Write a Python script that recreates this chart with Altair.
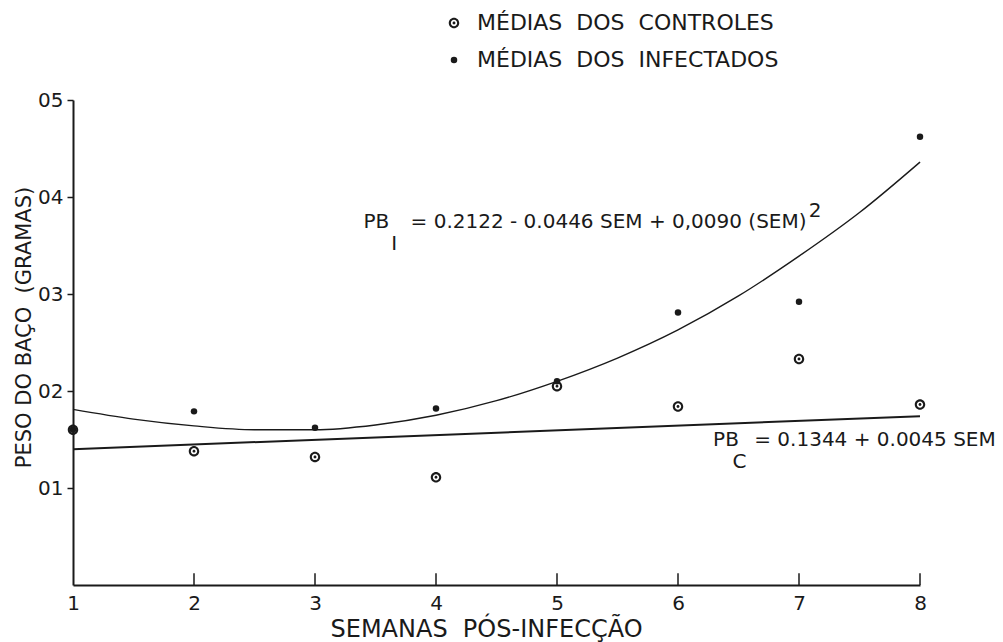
import altair as alt
import pandas as pd

# ---- data ----
weeks = [1, 2, 3, 4, 5, 6, 7, 8]
controls = [0.160, 0.138, 0.132, 0.111, 0.205, 0.184, 0.233, 0.186]
infected = [0.160, 0.179, 0.162, 0.182, 0.210, 0.281, 0.292, 0.462]

curve_x = [1, 1.5, 2, 2.5, 3, 3.5, 4, 4.5, 5, 5.5, 6, 6.5, 7, 7.5, 8]
curve_infected = [0.181, 0.171, 0.164, 0.160, 0.160, 0.165, 0.175, 0.190,
                  0.210, 0.234, 0.263, 0.298, 0.339, 0.384, 0.436]
line_x = [1, 8]
line_controls = [0.140, 0.174]

lbl_ctrl = "MÉDIAS\u00a0\u00a0DOS\u00a0\u00a0CONTROLES"
lbl_inf = "MÉDIAS\u00a0\u00a0DOS\u00a0\u00a0INFECTADOS"

FONT = "DejaVu Sans"
INK = "#1a1a1a"

pts = pd.DataFrame({
    "week": weeks * 2,
    "value": controls + infected,
    "serie": [lbl_ctrl] * len(weeks) + [lbl_inf] * len(weeks),
})
curve_df = pd.DataFrame({"week": curve_x, "value": curve_infected})
line_df = pd.DataFrame({"week": line_x, "value": line_controls})
tick_df = pd.DataFrame({"week": [2, 3, 4, 5, 6, 7, 8], "y0": [0] * 7, "y1": [0.012] * 7})

ann = pd.DataFrame({
    "week": [3.40, 3.63, 3.79, 7.08, 6.29, 6.45, 6.63],
    "value": [0.374, 0.352, 0.374, 0.386, 0.150, 0.127, 0.150],
    "txt": ["PB", "I", "= 0.2122 - 0.0446 SEM + 0,0090 (SEM)", "2",
            "PB", "C", "= 0.1344 + 0.0045 SEM"],
})

ring_dot = ("M0,-1 A1,1 0 1,1 0,1 A1,1 0 1,1 0,-1 Z "
            "M0,-0.6 A0.6,0.6 0 1,0 0,0.6 A0.6,0.6 0 1,0 0,-0.6 Z "
            "M0,-0.28 A0.28,0.28 0 1,1 0,0.28 A0.28,0.28 0 1,1 0,-0.28 Z")

xs = alt.Scale(domain=[1, 8], nice=False, zero=False)
ys = alt.Scale(domain=[0, 0.5], nice=False)

x_axis = alt.Axis(values=weeks, format="d", ticks=False, labelPadding=8,
                  labelFlush=False,
                  labelFontSize=20, labelFont=FONT, labelColor=INK,
                  title="SEMANAS\u00a0\u00a0PÓS-INFECÇÃO", titleFont=FONT,
                  titleFontSize=24, titleFontWeight="normal", titleColor=INK,
                  titleX=413, titleY=44, titleBaseline="middle", titleAlign="center",
                  domainColor=INK, domainWidth=2, grid=False)
y_axis = alt.Axis(values=[0.1, 0.2, 0.3, 0.4, 0.5],
                  labelExpr="'0' + format(datum.value * 10, 'd')",
                  tickSize=6, tickColor=INK, tickWidth=1.5, labelPadding=4,
                  labelFontSize=20, labelFont=FONT, labelColor=INK,
                  title="PESO DO BAÇO\u00a0\u00a0(GRAMAS)", titleFont=FONT,
                  titleFontSize=21, titleFontWeight="normal", titleColor=INK,
                  titleX=-49, titleY=227, titleAngle=270, titleBaseline="middle",
                  titleAlign="center", domainColor=INK, domainWidth=2, grid=False)

base_x = alt.X("week:Q", scale=xs, axis=x_axis)
base_y = alt.Y("value:Q", scale=ys, axis=y_axis)

curve = alt.Chart(curve_df).mark_line(color=INK, strokeWidth=1.4, interpolate="monotone").encode(
    x=base_x, y=base_y)
ctrl_line = alt.Chart(line_df).mark_line(color=INK, strokeWidth=2).encode(
    x=alt.X("week:Q", scale=xs), y=alt.Y("value:Q", scale=ys))

ticks = alt.Chart(tick_df).mark_rule(color=INK, strokeWidth=1.5).encode(
    x=alt.X("week:Q", scale=xs), y=alt.Y("y0:Q", scale=ys), y2="y1:Q")

leg = alt.Legend(title=None, orient="none", legendX=370, legendY=-88,
                 labelFont=FONT, labelFontSize=22, labelColor=INK, labelOffset=12,
                 labelLimit=0, rowPadding=15, padding=0,
                 symbolFillColor=INK, symbolStrokeWidth=0)

points = alt.Chart(pts).mark_point(filled=True, strokeWidth=0, opacity=1, color=INK).encode(
    x=alt.X("week:Q", scale=xs),
    y=alt.Y("value:Q", scale=ys),
    shape=alt.Shape("serie:N", scale=alt.Scale(domain=[lbl_ctrl, lbl_inf],
                                                range=[ring_dot, "circle"]), legend=leg),
    size=alt.Size("serie:N", scale=alt.Scale(domain=[lbl_ctrl, lbl_inf],
                                              range=[110, 42]), legend=leg),
)

def txt(rows, size, align="left", baseline="middle"):
    return alt.Chart(ann.iloc[rows]).mark_text(
        font=FONT, fontSize=size, align=align, baseline=baseline, color=INK).encode(
        x=alt.X("week:Q", scale=xs), y=alt.Y("value:Q", scale=ys), text="txt:N")

texts = alt.layer(txt([0, 2, 4, 6], 20), txt([1, 5], 20), txt([3], 20))

chart = alt.layer(ctrl_line, curve, ticks, points, texts).properties(
    width=847, height=485,
    padding={"left": 73, "top": 100, "right": 83, "bottom": 57},
    autosize=alt.AutoSizeParams(type="none"),
    background="white",
).configure_view(stroke=None)

chart.save("out.html", embed_options={"renderer": "svg", "actions": False})
